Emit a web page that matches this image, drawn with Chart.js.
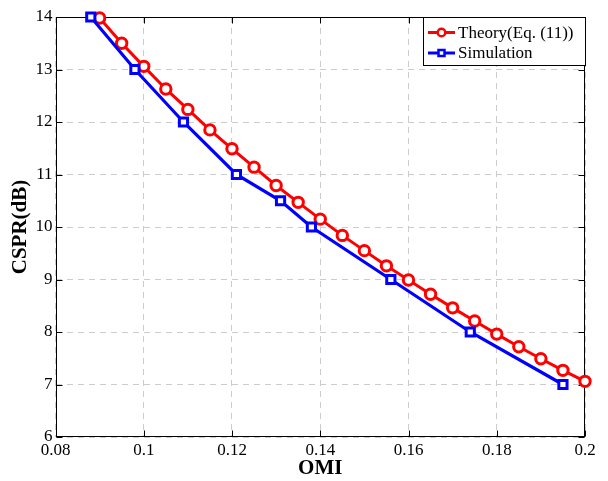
<!DOCTYPE html>
<html>
<head>
<meta charset="utf-8">
<script src="https://cdn.jsdelivr.net/npm/chart.js@4.4.1/dist/chart.umd.min.js"></script>
<style>
  html, body { margin: 0; padding: 0; background: #fff; }
  canvas { display: block; }
</style>
</head>
<body>
<canvas id="csprChart" width="608" height="481"></canvas>
<script>
// CSPR versus optical modulation index
const theoryOmi = [0.09, 0.095, 0.1, 0.105, 0.11, 0.115, 0.12, 0.125, 0.13, 0.135, 0.14, 0.145,
                   0.15, 0.155, 0.16, 0.165, 0.17, 0.175, 0.18, 0.185, 0.19, 0.195, 0.2];
const theoryCspr = [13.98, 13.50, 13.06, 12.63, 12.24, 11.85, 11.49, 11.14, 10.79, 10.47, 10.15, 9.84,
                    9.55, 9.26, 8.99, 8.72, 8.46, 8.21, 7.96, 7.72, 7.49, 7.27, 7.06];
const simOmi = [0.088, 0.098, 0.109, 0.121, 0.131, 0.138, 0.156, 0.174, 0.195];
const simCspr = [14, 13, 12, 11, 10.5, 10, 9, 8, 7];

const omiTicks = [0.08, 0.1, 0.12, 0.14, 0.16, 0.18, 0.2];
const csprTicks = [6, 7, 8, 9, 10, 11, 12, 13, 14];

const seriesNames = ['Theory(Eq. (11))', 'Simulation'];
const seriesColors = ['#ff0000', '#0000ff'];

const SERIF = '"Liberation Serif", "Times New Roman", serif';

const toPoints = (xs, ys) => xs.map((v, i) => ({ x: v, y: ys[i] }));

// box, inward ticks, axis titles and legend
const frame = {
  id: 'frame',
  beforeDatasetsDraw(chart) {
    const { ctx, chartArea: a, scales: { x, y } } = chart;
    const l = Math.round(a.left) + 0.5, r = Math.round(a.right) - 0.5;
    const t = Math.round(a.top) + 0.5, b = Math.round(a.bottom) - 0.5;
    ctx.save();
    ctx.strokeStyle = '#000';
    ctx.lineWidth = 1;
    ctx.strokeRect(l, t, r - l, b - t);
    ctx.beginPath();
    omiTicks.forEach(v => {
      const px = Math.round(x.getPixelForValue(v)) + 0.5;
      ctx.moveTo(px, b); ctx.lineTo(px, b - 6);
      ctx.moveTo(px, t); ctx.lineTo(px, t + 6);
    });
    csprTicks.forEach(v => {
      const py = Math.round(y.getPixelForValue(v)) + 0.5;
      ctx.moveTo(l, py); ctx.lineTo(l + 6, py);
      ctx.moveTo(r, py); ctx.lineTo(r - 6, py);
    });
    ctx.stroke();
    ctx.restore();
  },
  afterDraw(chart) {
    const { ctx, chartArea: a } = chart;
    ctx.save();
    ctx.fillStyle = '#000';
    ctx.font = 'bold 21px ' + SERIF;
    ctx.textAlign = 'center';
    ctx.textBaseline = 'middle';
    ctx.fillText('OMI', (a.left + a.right) / 2, 469);
    ctx.translate(21, (a.top + a.bottom) / 2);
    ctx.rotate(-Math.PI / 2);
    ctx.fillText('CSPR(dB)', 0, 0);
    ctx.restore();

    // legend
    const bx = 423.5, by = 17.5, bw = 162, bh = 48;
    ctx.save();
    ctx.fillStyle = '#fff';
    ctx.fillRect(bx, by, bw, bh);
    ctx.strokeStyle = '#000';
    ctx.lineWidth = 1;
    ctx.strokeRect(bx, by, bw, bh);
    const rows = [32.5, 53];
    ctx.font = '17px ' + SERIF;
    ctx.textBaseline = 'middle';
    ctx.textAlign = 'left';
    rows.forEach((ry, i) => {
      ctx.strokeStyle = seriesColors[i];
      ctx.lineWidth = 3;
      ctx.beginPath();
      ctx.moveTo(428, ry); ctx.lineTo(455, ry);
      ctx.stroke();
      ctx.fillStyle = '#fff';
      ctx.lineWidth = 2.5;
      ctx.beginPath();
      if (i === 0) ctx.arc(441.5, ry, 3.8, 0, Math.PI * 2);
      else ctx.rect(441.5 - 3, ry - 3, 6, 6);
      ctx.fill();
      ctx.stroke();
      ctx.fillStyle = '#000';
      ctx.fillText(seriesNames[i], 458, ry + 1);
    });
    ctx.restore();
  }
};

new Chart(document.getElementById('csprChart'), {
  type: 'line',
  data: {
    datasets: [
      {
        label: seriesNames[0],
        data: toPoints(theoryOmi, theoryCspr),
        borderColor: seriesColors[0],
        backgroundColor: '#fff',
        borderWidth: 3,
        pointStyle: 'circle',
        pointRadius: 5.2,
        pointBorderWidth: 3,
        pointBackgroundColor: '#fff',
        pointBorderColor: seriesColors[0],
        tension: 0,
        clip: false,
        order: 1
      },
      {
        label: seriesNames[1],
        data: toPoints(simOmi, simCspr),
        borderColor: seriesColors[1],
        backgroundColor: '#fff',
        borderWidth: 3.2,
        pointStyle: 'rect',
        pointRadius: 5.8,
        pointBorderWidth: 3,
        pointBackgroundColor: '#fff',
        pointBorderColor: seriesColors[1],
        tension: 0,
        clip: false,
        order: 0
      }
    ]
  },
  options: {
    responsive: false,
    animation: false,
    devicePixelRatio: 1,
    layout: { padding: { top: 17, right: 23, left: 0, bottom: 0 } },
    plugins: { legend: { display: false }, tooltip: { enabled: false } },
    scales: {
      x: {
        type: 'linear',
        min: 0.08,
        max: 0.2,
        afterBuildTicks: s => { s.ticks = omiTicks.map(v => ({ value: v })); },
        afterFit: s => { s.height = 44; },
        grid: { color: '#cccccc', lineWidth: 1, drawTicks: false },
        border: { display: false, dash: [6, 5] },
        ticks: {
          color: '#000',
          padding: 3,
          maxRotation: 0,
          font: { family: SERIF, size: 17 },
          callback: v => String(Number(v.toFixed(2)))
        }
      },
      y: {
        type: 'linear',
        min: 6,
        max: 14,
        afterBuildTicks: s => { s.ticks = csprTicks.map(v => ({ value: v })); },
        afterFit: s => { s.width = 55.5; },
        grid: { color: '#cccccc', lineWidth: 1, drawTicks: false },
        border: { display: false, dash: [6, 5] },
        ticks: {
          color: '#000',
          padding: 3,
          font: { family: SERIF, size: 17 }
        }
      }
    }
  },
  plugins: [frame]
});
</script>
</body>
</html>
